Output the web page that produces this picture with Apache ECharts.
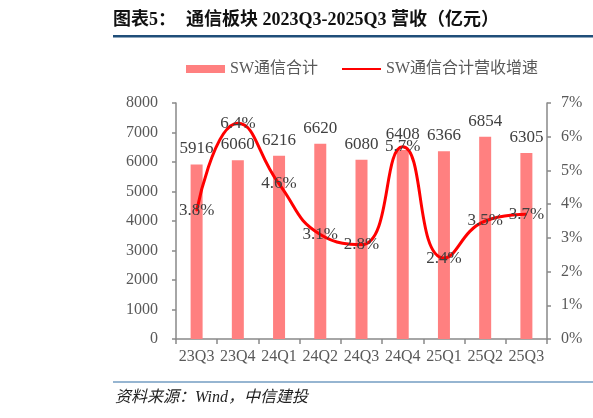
<!DOCTYPE html>
<html lang="zh-cn">
<head>
  <meta charset="UTF-8">
  <title>通信板块营收</title>
  <style>
    html, body { margin: 0; padding: 0; background: #fff; }
    #myChart { width: 593px; height: 418px; }
  </style>
  <script src="https://cdn.jsdelivr.net/npm/echarts@6.0.0/dist/echarts.min.js"></script>
</head>
<body>
<div id="myChart"></div>
<script>
// data
var quarters = ['23Q3', '23Q4', '24Q1', '24Q2', '24Q3', '24Q4', '25Q1', '25Q2', '25Q3'];
var revenue = [5916, 6060, 6216, 6620, 6080, 6408, 6366, 6854, 6305];   // 亿元
var growth = [3.8, 6.4, 4.6, 3.1, 2.8, 5.7, 2.4, 3.5, 3.7];              // %

var serif = "'Liberation Serif', 'Noto Sans CJK SC', serif";
var axisColor = '#898989';
var textColor = '#595959';

var myChart = echarts.init(document.getElementById('myChart'));
var option = {
  animation: false,
  graphic: [
    {
      type: 'text', left: 113, top: 11,
      style: { text: '图表5：', font: "bold 18px 'Liberation Serif', 'Noto Sans CJK SC'", fill: '#111' }
    },
    {
      type: 'text', left: 186, top: 11,
      style: { text: '通信板块 2023Q3-2025Q3 营收（亿元）', font: "bold 18px 'Liberation Serif', 'Noto Sans CJK SC'", fill: '#111' }
    },
    {
      type: 'rect', shape: { x: 113, y: 35, width: 480, height: 2.5 },
      style: { fill: '#1F4E79' }
    },
    {
      type: 'rect', shape: { x: 113, y: 381.5, width: 480, height: 1 },
      style: { fill: '#2E6DA4' }
    },
    {
      type: 'text', left: 115, top: 390,
      style: { text: '资料来源：Wind，中信建投', font: "italic 16px 'Liberation Serif', 'Noto Sans CJK SC'", fill: '#222' }
    }
  ],
  legend: {
    top: 56,
    left: 181,
    itemGap: 23,
    itemWidth: 39,
    itemHeight: 8,
    textStyle: { fontFamily: serif, fontSize: 16, color: textColor },
    data: [
      { name: 'SW通信合计', icon: 'rect' },
      { name: 'SW通信合计营收增速', itemStyle: { opacity: 0 } }
    ]
  },
  grid: {
    left: 176,
    right: 46,
    top: 103,
    bottom: 79
  },
  xAxis: {
    type: 'category',
    data: quarters,
    axisLine: { lineStyle: { color: axisColor, width: 1.5 } },
    axisTick: { show: true, length: 5, lineStyle: { color: axisColor, width: 1.5 } },
    axisLabel: { interval: 0, fontFamily: serif, fontSize: 16, color: textColor, margin: 10 }
  },
  yAxis: [
    {
      type: 'value',
      min: 0,
      max: 8000,
      interval: 1000,
      axisLine: { show: true, lineStyle: { color: axisColor, width: 1.5 } },
      axisTick: { show: true, length: 4, lineStyle: { color: axisColor, width: 1.5 } },
      splitLine: { show: false },
      axisLabel: {
        fontFamily: serif, fontSize: 16, color: textColor, margin: 18,
        formatter: function (v) { return String(v); }
      }
    },
    {
      type: 'value',
      min: 0,
      max: 7,
      interval: 1,
      position: 'right',
      axisLine: { show: true, lineStyle: { color: axisColor, width: 1.5 } },
      axisTick: { show: true, length: 4, lineStyle: { color: axisColor, width: 1.5 } },
      splitLine: { show: false },
      axisLabel: { fontFamily: serif, fontSize: 16, color: textColor, margin: 14, formatter: '{value}%' }
    }
  ],
  series: [
    {
      type: 'bar',
      name: 'SW通信合计',
      data: revenue,
      barWidth: 12,
      itemStyle: { color: '#FF8080' },
      label: {
        show: true,
        position: 'top',
        distance: 7,
        fontFamily: serif,
        fontSize: 17,
        color: '#404040'
      }
    },
    {
      type: 'line',
      name: 'SW通信合计营收增速',
      yAxisIndex: 1,
      data: growth,
      smooth: 0.5,
      symbol: 'circle',
      symbolSize: 1,
      z: 5,
      itemStyle: { color: '#FF0000' },
      lineStyle: { color: '#FF0000', width: 3 },
      label: {
        show: true,
        position: 'inside',
        fontFamily: serif,
        fontSize: 17,
        color: '#404040',
        formatter: function (p) { return p.value.toFixed(1) + '%'; }
      }
    }
  ]
};
myChart.setOption(option);
</script>
</body>
</html>
